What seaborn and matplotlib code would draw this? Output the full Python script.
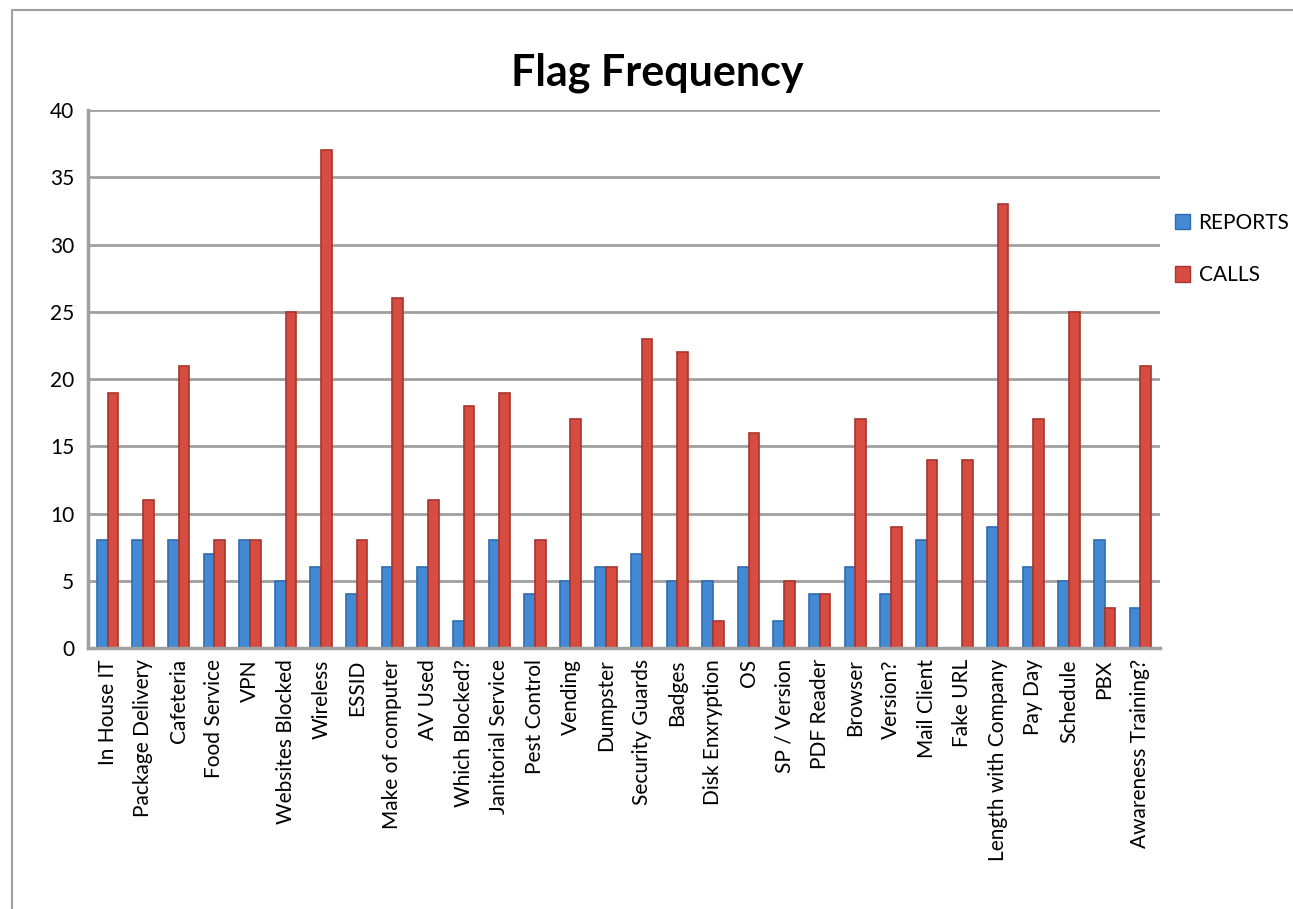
import pandas as pd
import matplotlib
matplotlib.use("Agg")
import matplotlib.pyplot as plt
import seaborn as sns
from matplotlib.lines import Line2D
from matplotlib.patches import Patch

categories = ["In House IT", "Package Delivery", "Cafeteria", "Food Service", "VPN",
              "Websites Blocked", "Wireless", "ESSID", "Make of computer", "AV Used",
              "Which Blocked?", "Janitorial Service", "Pest Control", "Vending", "Dumpster",
              "Security Guards", "Badges", "Disk Enxryption", "OS", "SP / Version",
              "PDF Reader", "Browser", "Version?", "Mail Client", "Fake URL",
              "Length with Company", "Pay Day", "Schedule", "PBX", "Awareness Training?"]
reports = [8, 8, 8, 7, 8, 5, 6, 4, 6, 6, 2, 8, 4, 5, 6, 7, 5, 5, 6, 2, 4, 6, 4, 8, 0, 9, 6, 5, 8, 3]
calls = [19, 11, 21, 8, 8, 25, 37, 8, 26, 11, 18, 19, 8, 17, 6, 23, 22, 2, 16, 5, 4, 17, 9, 14, 14, 33, 17, 25, 3, 21]
series = ["REPORTS", "CALLS"]
colors = ["#4389D3", "#D64C41"]
edge_colors = ["#2F6DB0", "#A8362D"]

df = pd.DataFrame({
    "category": categories * 2,
    "series": [series[0]] * len(categories) + [series[1]] * len(categories),
    "value": reports + calls,
})

sns.set_style("white")
plt.rcParams["font.family"] = ["Lato", "DejaVu Sans"]
plt.rcParams["text.color"] = "black"
plt.rcParams["xtick.color"] = "black"
plt.rcParams["ytick.color"] = "black"

fig = plt.figure(figsize=(12.93, 9.09), dpi=100)
ax = fig.add_axes([0.068, 0.287, 0.829, 0.592])

sns.barplot(data=df, x="category", y="value", hue="series", palette=colors,
            width=0.6, ax=ax, legend=False, saturation=1, linewidth=0)
for bar, c in zip(ax.patches, [edge_colors[0]] * len(categories) + [edge_colors[1]] * len(categories)):
    bar.set_edgecolor(c)
    bar.set_linewidth(1.2)

ax.set_ylim(0, 40)
ax.set_xlim(-0.55, len(categories) - 0.45)
ax.set_yticks(range(0, 41, 5))
ax.yaxis.grid(True, color="#A0A0A0", linewidth=2)
ax.set_axisbelow(True)
ax.set_xlabel("")
ax.set_ylabel("")
ax.tick_params(axis="y", labelsize=15, pad=10, length=0, labelcolor="black")
ax.tick_params(axis="x", labelsize=15, length=0, pad=8, labelcolor="black")
plt.setp(ax.get_xticklabels(), rotation=90)
for s in ["top", "right"]:
    ax.spines[s].set_visible(False)
for s in ["left", "bottom"]:
    ax.spines[s].set_color("#A0A0A0")
    ax.spines[s].set_linewidth(2.5)

handles = [Patch(facecolor=c, edgecolor=e) for c, e in zip(colors, edge_colors)]
fig.legend(handles, series, loc="upper left", bbox_to_anchor=(0.902, 0.775),
           frameon=False, fontsize=15, handlelength=0.75, handleheight=0.75,
           handletextpad=0.4, labelspacing=1.55, borderaxespad=0)

fig.text(0.508, 0.92, "Flag Frequency", ha="center", va="center",
         fontsize=31, fontweight="bold", color="black")

fig.add_artist(Line2D([0.0093, 0.0093], [0, 0.989], color="#A0A0A0", linewidth=1.5,
                      transform=fig.transFigure))
fig.add_artist(Line2D([0.0093, 1.0], [0.989, 0.989], color="#A0A0A0", linewidth=1.5,
                      transform=fig.transFigure))

fig.savefig("out.png", dpi=100)
